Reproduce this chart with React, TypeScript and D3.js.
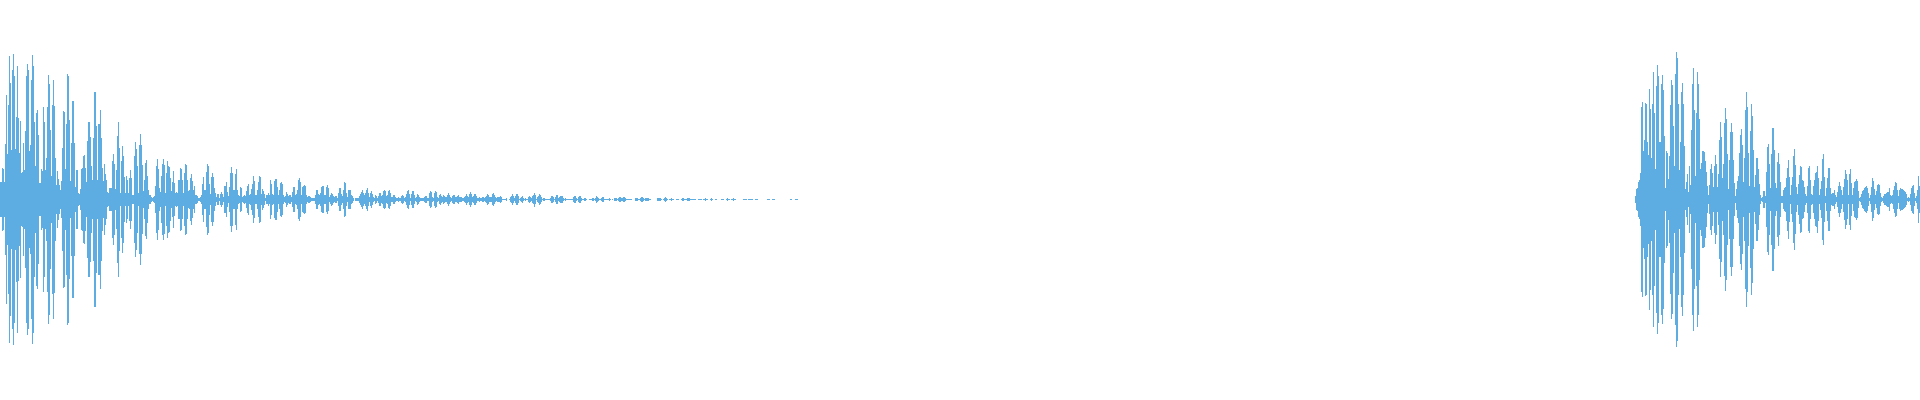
import { useEffect, useRef } from "react";
import * as d3 from "d3";

// peak amplitude per sample column
const firstBurst = [
  17, 17, 31, 30, 17, 55, 104, 45, 94, 143, 116, 49, 129, 145, 123, 50, 82, 133, 81, 46,
  78, 26, 27, 56, 29, 68, 123, 135, 129, 48, 54, 119, 144, 133, 77, 33, 86, 89, 64, 16,
  16, 30, 28, 92, 77, 29, 41, 92, 124, 115, 69, 23, 94, 119, 93, 41, 14, 28, 20, 14,
  9, 18, 51, 88, 87, 30, 75, 125, 123, 79, 18, 56, 98, 98, 56, 12, 29, 29, 6, 5,
  10, 30, 31, 43, 44, 31, 17, 58, 77, 77, 62, 33, 19, 61, 107, 107, 73, 19, 75, 75,
  89, 61, 31, 18, 35, 25, 19, 7, 6, 11, 11, 11, 38, 45, 35, 10, 29, 63, 77, 51,
  6, 38, 53, 43, 22, 6, 23, 19, 6, 21, 29, 21, 4, 4, 43, 57, 50, 33, 6, 54,
  65, 54, 34, 8, 19, 36, 39, 23, 9, 4, 4, 2, 1, 2, 3, 13, 33, 40, 30, 11,
  7, 23, 35, 40, 34, 6, 26, 38, 33, 32, 21, 8, 17, 28, 16, 6, 7, 6, 19, 19,
  31, 30, 19, 6, 26, 35, 34, 19, 8, 9, 21, 25, 18, 9, 13, 4, 4, 3, 1, 1,
  2, 4, 15, 22, 9, 9, 27, 35, 33, 15, 5, 22, 26, 22, 11, 6, 2, 5, 5, 1,
  5, 7, 5, 2, 13, 13, 17, 7, 3, 12, 26, 32, 26, 9, 9, 25, 30, 9, 4, 3,
  12, 11, 2, 3, 4, 3, 8, 13, 15, 4, 5, 10, 15, 23, 18, 4, 4, 9, 17, 23,
  22, 5, 10, 8, 5, 1, 4, 4, 6, 4, 19, 15, 5, 4, 18, 20, 20, 12, 4, 9,
  16, 17, 15, 4, 2, 3, 7, 5, 3, 4, 4, 2, 7, 12, 12, 4, 5, 9, 19, 21,
  17, 4, 12, 13, 14, 13, 4, 2, 3, 3, 2, 1, 1, 1, 1, 4, 9, 9, 5, 4,
  6, 12, 13, 13, 4, 4, 12, 14, 11, 2, 4, 6, 5, 3, 2, 3, 3, 1, 6, 11,
  11, 5, 3, 9, 17, 16, 6, 2, 9, 9, 9, 4, 3, 1, 0, 1, 1, 1, 1, 3,
  5, 7, 9, 6, 4, 6, 9, 11, 6, 2, 6, 8, 5, 2, 1, 4, 3, 1, 3, 6,
  6, 3, 4, 8, 9, 8, 3, 4, 8, 9, 6, 2, 2, 4, 4, 2, 1, 1, 2, 1,
  1, 3, 4, 3, 1, 2, 5, 8, 9, 5, 1, 5, 8, 8, 4, 1, 2, 5, 4, 2,
  1, 1, 1, 1, 2, 3, 3, 1, 1, 6, 8, 7, 2, 1, 6, 8, 7, 2, 1, 4,
  5, 3, 2, 4, 3, 2, 2, 4, 6, 4, 2, 1, 3, 4, 4, 2, 2, 3, 4, 2,
  2, 2, 1, 1, 2, 3, 5, 3, 2, 5, 7, 5, 2, 3, 5, 5, 3, 1, 1, 2,
  1, 1, 2, 2, 1, 2, 3, 5, 4, 2, 2, 2, 5, 6, 4, 2, 1, 2, 2, 2,
  3, 2, 0.5, 0.5, 0.5, 0.5, 1.5, 0, 0, 0.5, 2, 3, 5, 3.5, 1, 3, 5, 5.5, 3, 0.5,
  1.5, 2.5, 3, 1.5, 0.5, 1, 0.5, 0.5, 2, 3, 2, 1, 3, 4, 6.5, 4, 0.5, 2, 3.5, 5,
  4, 2, 0.5, 1, 1, 0.5, 0.5, 0.5, 0.5, 0.5, 1, 3, 3.5, 2, 0.5, 2, 4.5, 4, 1.5, 2,
  3, 3, 3, 1, 0.5, 1.5, 0.5, 0.5, 0.5, 0.5, 0.5, 0.5, 0.5, 2, 3, 3, 1.5, 0.5, 2, 3,
  3, 1.5, 0.5, 0.5, 1.5, 1.5, 0.5, 0, 0, 0.5, 0.5, 0.5, 1, 1.5, 0.5, 1.5, 3, 2.5, 1, 0.5,
  0.5, 1.5, 2.5, 2.5, 0.5, 0.5, 0.5, 0.5, 0.5, 1, 0.5, 0, 0.5, 0, 1, 1.5, 1.5, 0.5, 1, 2.5,
  2, 1, 1.5, 2.5, 2.5, 1.5, 0.5, 0.5, 0.5, 0.5, 0.5, 0.5, 0, 0, 0, 1, 1.5, 1.5, 0.5, 0.5,
  1.5, 2.5, 2, 1, 0.5, 1, 1.5, 1.5, 1, 0.5, 0.5, 0, 0, 0, 0, 0, 0, 1, 1.5, 1.5,
  1, 0.5, 0, 0.5, 1.5, 2.5, 1.5, 0.5, 0, 0.5, 0.5, 1, 0.5, 0.5, 0, 0, 0.5, 0.5, 0.5, 0,
  0, 0.5, 1.5, 1.5, 0.5, 0.5, 0.5, 1, 1.5, 1, 0.5, 0.5, 0.5, 0.5, 0.5, 0.5, 0, 0, 0.5, 0.5,
  0.5, 0.5, 0, 0.5, 0.5, 1, 0.5, 0.5, 0, 0, 0.5, 1, 0.5, 0, 0, 0.5, 0.5, 0, 0, 0,
  0, 0.5, 0.5, 0.5, 0, 0, 0.5, 1, 0.5, 0.5, 0, 0.5, 0.5, 1, 0.5, 0.5, 0, 0, 0, 0,
  0, 0, 0, 0.5, 0.5, 0.5, 0.5, 0, 0.5, 0.5, 0.5, 0.5, 0.5, 0, 0, 0.5, 0.5, 0.5, 0, 0,
  0, 0, 0, 0, 0, 0, 0, 0.5, 0.5, 0.5, 0, 0, 0.5, 0.5, 0.5, 0, 0, 0, 0, 0,
  0, 0, 0, 0, 0, 0, 0, 0, 0, 0, 0.5, 0.5, 0, 0, 0, 0.5, 0.5, 0.5,
];

const secondBurst = [
  3, 10, 11, 17, 19, 26, 92, 97, 48, 59, 96, 95, 57, 44, 110, 90, 41, 95, 127, 86,
  30, 113, 134, 123, 57, 57, 115, 124, 109, 63, 11, 48, 46, 20, 43, 94, 119, 114, 73, 33,
  125, 147, 141, 95, 29, 57, 107, 116, 95, 53, 10, 17, 25, 7, 33, 14, 69, 115, 131, 89,
  23, 86, 127, 115, 80, 30, 36, 48, 48, 47, 38, 27, 13, 4, 14, 30, 35, 26, 12, 33,
  44, 35, 12, 25, 59, 77, 62, 21, 35, 76, 91, 80, 45, 10, 39, 67, 76, 67, 39, 16,
  3, 10, 18, 23, 46, 64, 70, 54, 17, 41, 89, 107, 92, 46, 13, 68, 95, 83, 49, 12,
  24, 41, 41, 30, 15, 4, 1, 2, 8, 8, 3, 27, 52, 55, 35,
  11, 45, 71, 71, 49, 16, 11, 37, 46, 35, 17, 3, 3, 9, 11, 12, 21, 31, 39, 22,
  4, 14, 22, 43, 50, 34, 12, 5, 15, 24, 33, 32, 19, 18, 12, 5, 3, 13, 31, 33,
  19, 5, 4, 13, 19, 26, 27, 33, 21, 4, 10, 18, 40, 45, 22, 3, 11, 21, 31, 31,
  11, 5, 6, 6, 9, 4, 2, 7, 13, 17, 13, 9, 4, 12, 20, 29, 25, 19, 4, 25,
  30, 16, 4, 11, 17, 18, 20, 18, 8, 1, 2, 5, 8, 9, 11, 12, 13, 11, 6, 1,
  4, 12, 21, 18, 10, 4, 8, 14, 15, 14, 6, 2, 1, 3, 5, 5, 6, 7, 7, 11,
  4, 3, 4, 9, 13, 17, 16, 9, 3, 9, 11, 10, 10, 9, 8, 7, 5, 1, 2, 1,
  5, 11, 13, 14, 6, 1, 3, 9, 23, 13,
];

const burstStarts = [0, 1635];
const bursts = [firstBurst, secondBurst];

const width = 1920;
const height = 400;

export default function App() {
  const ref = useRef<SVGSVGElement>(null);

  useEffect(() => {
    const svg = d3.select(ref.current);
    svg.selectAll("*").remove();

    const x = d3.scaleLinear().domain([0, width]).range([0, width]);
    const y = d3.scaleLinear().domain([-150, 150]).range([349.5, 49.5]);

    bursts.forEach((burst, b) => {
      svg
        .append("g")
        .selectAll("rect")
        .data(burst.map((amp, i) => ({ amp, i: i + burstStarts[b] })).filter((d) => d.amp > 0))
        .enter()
        .append("rect")
        .attr("x", (d) => x(d.i))
        .attr("width", x(1) - x(0))
        // snap outwards so every column stays centred on the middle pixel row
        .attr("y", (d) => Math.floor(y(d.amp)))
        .attr("height", (d) => Math.ceil(y(-d.amp)) - Math.floor(y(d.amp)))
        .attr("fill", "#5dade2")
        .attr("shape-rendering", "crispEdges");
    });
  }, []);

  return (
    <svg
      ref={ref}
      width={width}
      height={height}
      style={{ position: "absolute", left: 0, top: 0, background: "#fff" }}
    ></svg>
  );
}
